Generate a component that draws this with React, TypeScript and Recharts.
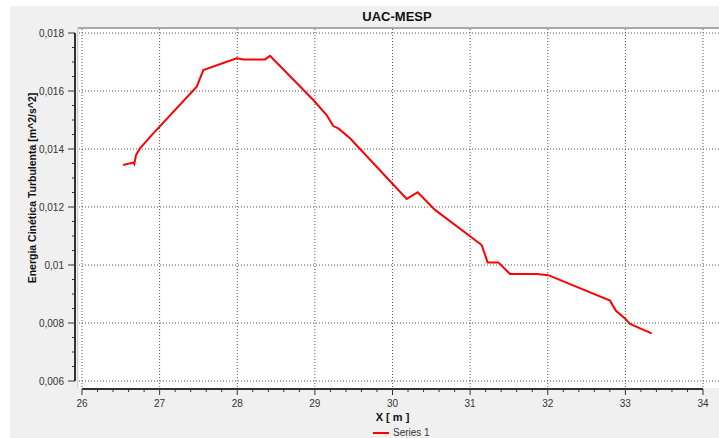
import { LineChart, Line, XAxis, YAxis, CartesianGrid } from "recharts";

// X position [m] along the profile
const xValues = [
  26.53, 26.66, 26.674, 26.696, 26.747, 26.898, 27.478, 27.563, 27.993, 28.078,
  28.357, 28.422, 28.98, 29.152, 29.237, 29.302, 29.453, 30.183, 30.325, 30.548,
  31.149, 31.226, 31.363, 31.514, 31.858, 32.007, 32.802, 32.879, 32.995, 33.06,
  33.339,
];

// turbulent kinetic energy [m^2/s^2]
const kValues = [
  0.01345, 0.01353, 0.01348, 0.01379, 0.01402, 0.01448, 0.01615, 0.01672, 0.01713, 0.01709,
  0.01709, 0.01721, 0.01569, 0.01517, 0.01479, 0.01471, 0.01437, 0.01228, 0.01251, 0.0119,
  0.01069, 0.01009, 0.01009, 0.00969, 0.00969, 0.00965, 0.00877, 0.00842, 0.00816, 0.00797,
  0.00764,
];

const xMajorTicks = [26, 27, 28, 29, 30, 31, 32, 33, 34];
const yMajorTicks = [0.006, 0.008, 0.01, 0.012, 0.014, 0.016, 0.018];
const xMinorStep = 0.2;
const yMinorStep = 0.0005;

const xTicks: number[] = [];
for (let i = 0; i <= 40; i++) xTicks.push(Math.round((26 + i * xMinorStep) * 10) / 10);
const yTicks: number[] = [];
for (let i = 0; i <= 24; i++) yTicks.push(Math.round((0.006 + i * yMinorStep) * 10000) / 10000);

const data = xValues.map((x, i) => ({ x, k: kValues[i] }));

const FONT = '"Liberation Sans", Arial, sans-serif';
const TEXT = "#333";

const isMajor = (v: number, majors: number[]) => majors.some((m) => Math.abs(m - v) < 1e-9);
const fmtY = (v: number) => String(Number(v.toFixed(4))).replace(".", ",");

function XTick({ x, y, payload }: any) {
  const v = payload.value;
  const major = isMajor(v, xMajorTicks);
  return (
    <g>
      <line x1={x} x2={x} y1={y + 1} y2={y + (major ? 7 : 4)} stroke="#333" />
      {major && (
        <text x={x} y={y + 19} textAnchor="middle" fontSize={10} fill={TEXT} fontFamily={FONT}>
          {v}
        </text>
      )}
    </g>
  );
}

function YTick({ x, y, payload }: any) {
  const v = payload.value;
  const major = isMajor(v, yMajorTicks);
  return (
    <g>
      <line x1={x - 4} x2={x - (major ? 11 : 7)} y1={y} y2={y} stroke="#333" />
      {major && (
        <text x={x - 15} y={y + 3.5} textAnchor="end" fontSize={10} fill={TEXT} fontFamily={FONT}>
          {fmtY(v)}
        </text>
      )}
    </g>
  );
}

export default function App() {
  return (
    <div style={{ position: "absolute", left: 0, top: 0, width: 719, height: 438, background: "#fff", fontFamily: FONT }}>
      {/* panel + plot frame */}
      <div style={{ position: "absolute", left: 10, top: 6, width: 709, height: 432, background: "#f0f0f0" }} />
      <div style={{ position: "absolute", left: 78, top: 27, width: 641, height: 2, background: "#a8a8a8" }} />
      <div style={{ position: "absolute", left: 77, top: 28, width: 1, height: 360, background: "#cfcfcf" }} />
      <div style={{ position: "absolute", left: 74, top: 33, width: 1.5, height: 348, background: "#333" }} />
      <div style={{ position: "absolute", left: 82, top: 388, width: 621, height: 1.5, background: "#333" }} />

      <div
        style={{
          position: "absolute",
          left: 397,
          top: 9,
          transform: "translateX(-50%)",
          fontSize: 13,
          fontWeight: "bold",
          lineHeight: "15px",
          color: "#111",
          whiteSpace: "nowrap",
        }}
      >
        UAC-MESP
      </div>

      <div style={{ position: "absolute", left: 0, top: 0 }}>
        <LineChart width={719} height={438} data={data} margin={{ top: 29, right: 0, left: 19, bottom: 20 }}>
          <CartesianGrid
            fill="#fff"
            stroke="#555"
            strokeDasharray="1 2"
            verticalValues={xMajorTicks}
            horizontalValues={yMajorTicks}
          />
          <XAxis
            dataKey="x"
            type="number"
            domain={[26, 34]}
            ticks={xTicks}
            interval={0}
            padding={{ left: 3, right: 16 }}
            axisLine={false}
            tickLine={false}
            tickSize={0}
            tickMargin={0}
            height={30}
            tick={<XTick />}
          />
          <YAxis
            type="number"
            domain={[0.006, 0.018]}
            ticks={yTicks}
            interval={0}
            padding={{ top: 4, bottom: 7 }}
            axisLine={false}
            tickLine={false}
            tickSize={0}
            tickMargin={0}
            width={60}
            tick={<YTick />}
          />
          <Line
            type="linear"
            dataKey="k"
            stroke="#ff0000"
            strokeWidth={2}
            dot={false}
            isAnimationActive={false}
          />
        </LineChart>
      </div>

      <div
        style={{
          position: "absolute",
          left: 32,
          top: 188,
          transform: "translate(-50%, -50%) rotate(-90deg)",
          fontSize: 10.5,
          fontWeight: "bold",
          color: "#111",
          whiteSpace: "nowrap",
        }}
      >
        Energia Cinética Turbulenta [m^2/s^2]
      </div>

      <div
        style={{
          position: "absolute",
          left: 392.5,
          top: 417,
          transform: "translate(-50%, -50%)",
          fontSize: 11,
          fontWeight: "bold",
          color: "#111",
          whiteSpace: "pre",
        }}
      >
        X [ m ]
      </div>

      <div style={{ position: "absolute", left: 373, top: 427, height: 12, display: "flex", alignItems: "center" }}>
        <svg width={16} height={12}>
          <line x1={0} x2={16} y1={6} y2={6} stroke="#ff0000" strokeWidth={2} />
        </svg>
        <span style={{ marginLeft: 4, fontSize: 10, color: TEXT, lineHeight: "12px" }}>Series 1</span>
      </div>
    </div>
  );
}
